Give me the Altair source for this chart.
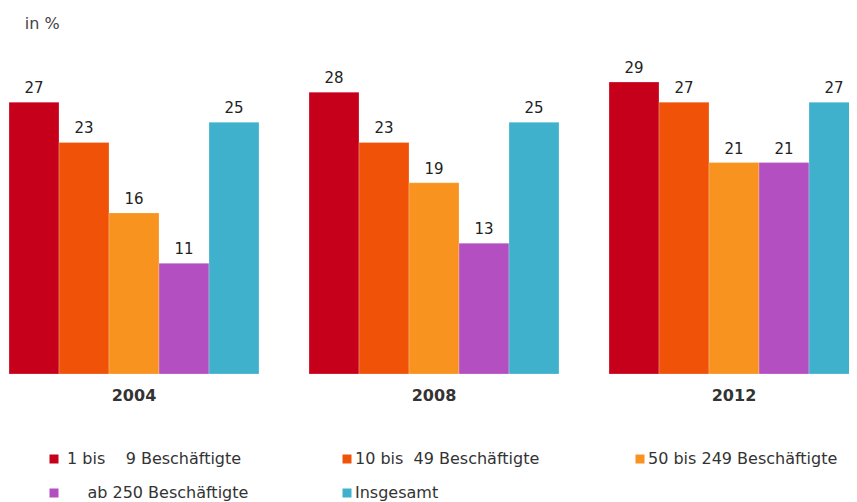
import altair as alt
import pandas as pd

NB = "\u00a0"
ZW = "\u200b"
years = ["2004", "2008", "2012"]
series = [
    ZW + NB + "1 bis" + NB * 4 + "9 Beschäftigte",
    "10 bis" + NB * 2 + "49 Beschäftigte",
    "50 bis 249 Beschäftigte",
    ZW + NB * 5 + "ab 250 Beschäftigte",
    "Insgesamt",
]
colors = ["#c6001a", "#f05208", "#f7931e", "#b34fc0", "#3fb1cc"]
values = {
    "2004": [27, 23, 16, 11, 25],
    "2008": [28, 23, 19, 13, 25],
    "2012": [29, 27, 21, 21, 27],
}

rows = []
for y in years:
    for i, s in enumerate(series):
        rows.append({"Jahr": y, "Gruppe": s, "order": i, "Wert": values[y][i]})
df = pd.DataFrame(rows)

x = alt.X("Jahr:N", sort=years,
          scale=alt.Scale(paddingInner=50 / 300, paddingOuter=0, range=[0, 850]),
          axis=alt.Axis(title=None, domain=False, ticks=False, labelAngle=0,
                        labelFont="DejaVu Sans", labelFontWeight="bold",
                        labelFontSize=16, labelColor="#333333", labelPadding=13))
xo = alt.XOffset("Gruppe:N", sort=series, scale=alt.Scale(paddingInner=0, paddingOuter=0))
y = alt.Y("Wert:Q", scale=alt.Scale(domain=[0, 30]), axis=None)

base = alt.Chart(df).encode(x=x, xOffset=xo, y=y)

bars = base.mark_bar(stroke="#ffffff", strokeWidth=0.4, strokeOpacity=0.6).encode(
    color=alt.Color("Gruppe:N", sort=series,
                    scale=alt.Scale(domain=series, range=colors),
                    legend=alt.Legend(title=None, orient="none", legendX=37, legendY=379,
                                      columns=3, direction="horizontal",
                                      symbolType="square", symbolSize=81,
                                      symbolStrokeWidth=0, labelOffset=0,
                                      labelFont="DejaVu Sans", labelFontSize=16,
                                      labelColor="#333333", labelLimit=300,
                                      gridAlign="all", columnPadding=87,
                                      rowPadding=18)),
)

labels = base.mark_text(dy=-6, baseline="bottom", font="DejaVu Sans",
                        fontSize=15, color="#222222").encode(text="Wert:Q")

chart = (bars + labels).properties(
    width=840, height=302,
    autosize=alt.AutoSizeParams(type="none"),
    padding={"left": 1, "top": 64, "right": 0, "bottom": 128},
    background="white",
    title=alt.Title("in %", anchor="start", font="DejaVu Sans", fontSize=16,
                    fontWeight="normal", color="#444444", dx=16, offset=29),
).configure_view(strokeWidth=0, stroke="transparent")

chart.save("out.html", embed_options={"renderer": "svg", "actions": False})
